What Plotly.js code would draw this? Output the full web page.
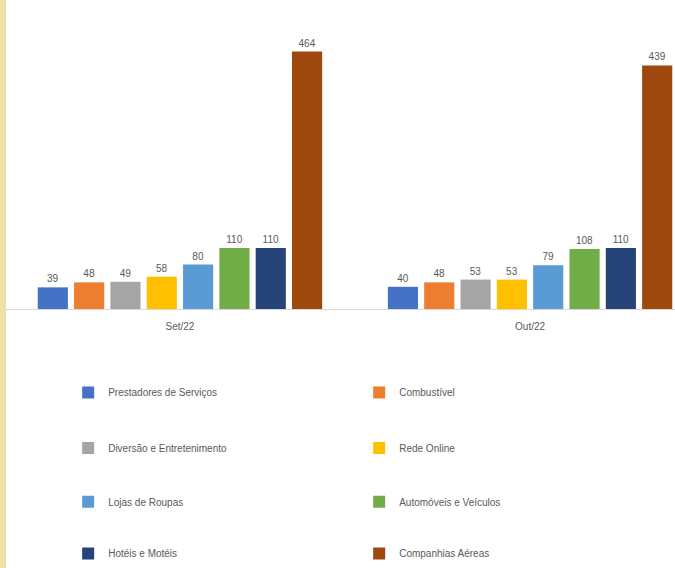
<!DOCTYPE html>
<html>
<head>
<meta charset="utf-8">
<script src="https://cdn.plot.ly/plotly-3.0.1.min.js"></script>
<style>html,body{margin:0;padding:0;background:#fff;}#chart{width:675px;height:568px;}</style>
</head>
<body>
<div id="chart"></div>
<script>
const months = ["Set/22", "Out/22"];
const seriesNames = ["Prestadores de Serviços", "Combustível", "Diversão e Entretenimento", "Rede Online",
  "Lojas de Roupas", "Automóveis e Veículos", "Hotéis e Motéis", "Companhias Aéreas"];
const prestadores = [39, 40];
const combustivel = [48, 48];
const diversao = [49, 53];
const redeOnline = [58, 53];
const lojasRoupas = [80, 79];
const automoveis = [110, 108];
const hoteis = [110, 110];
const companhias = [464, 439];
const seriesValues = [prestadores, combustivel, diversao, redeOnline, lojasRoupas, automoveis, hoteis, companhias];
const colors = ["#4472C4", "#ED7D31", "#A5A5A5", "#FFC000", "#5B9BD5", "#70AD47", "#264478", "#9E480E"];
const legendIds = ["legend", "legend", "legend2", "legend2", "legend3", "legend3", "legend4", "legend4"];

const traces = seriesNames.map((name, i) => ({
  type: "bar",
  name: name,
  x: months,
  y: seriesValues[i],
  marker: {color: colors[i]},
  text: seriesValues[i].map(String),
  textposition: "outside",
  cliponaxis: false,
  textfont: {family: "Liberation Sans, Arial, sans-serif", size: 10, color: "#595959"},
  legend: legendIds[i],
  hoverinfo: "none"
}));

function leg(y) {
  return {
    orientation: "h", x: 0.101, xanchor: "left", y: y, yanchor: "middle",
    entrywidth: 246, entrywidthmode: "pixels",
    font: {family: "Liberation Sans, Arial, sans-serif", size: 10, color: "#595959"},
    bgcolor: "rgba(0,0,0,0)", traceorder: "normal", itemclick: false
  };
}
// plot area: top 20, bottom at 311 -> height 291
const H = 291;
const py = (pix) => (311 - pix) / H;

const layout = {
  width: 675, height: 568,
  margin: {l: 0, r: 0, t: 20, b: 257},
  paper_bgcolor: "#ffffff", plot_bgcolor: "#ffffff",
  barmode: "group", bargap: 0.17, bargroupgap: 0.17,
  showlegend: true,
  xaxis: {
    type: "category", range: [-0.514, 1.414],
    showline: true, linecolor: "#D9D9D9", linewidth: 1,
    ticks: "", showgrid: false, zeroline: false,
    tickfont: {family: "Liberation Sans, Arial, sans-serif", size: 10, color: "#595959"},
    ticklabelstandoff: 8
  },
  yaxis: {range: [0, 521], visible: false, showgrid: false, zeroline: false},
  legend: leg(py(395)),
  legend2: leg(py(451)),
  legend3: leg(py(505)),
  legend4: leg(py(558)),
  shapes: [{type: "line", xref: "paper", yref: "paper", x0: 3 / 675, x1: 3 / 675, y0: -2, y1: 2,
    line: {color: "#EDE3A8", width: 6}}]
};

Plotly.newPlot("chart", traces, layout, {displayModeBar: false, staticPlot: true});
</script>
</body>
</html>
